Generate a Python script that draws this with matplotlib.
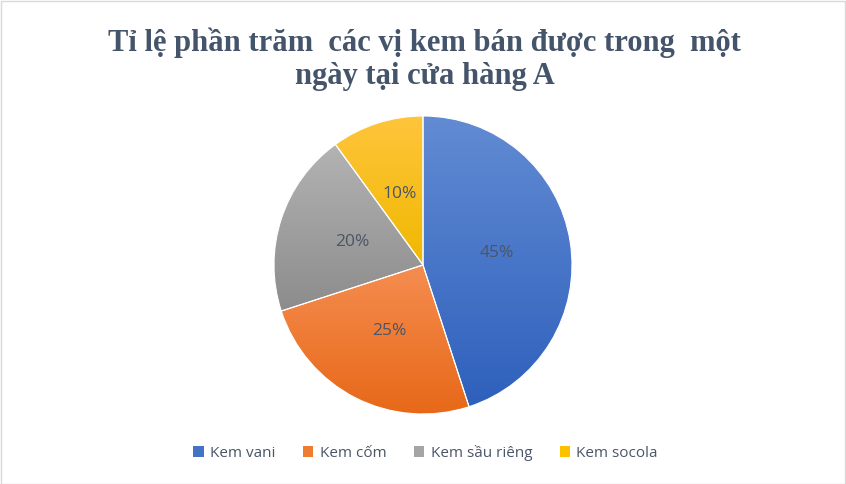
import numpy as np
import matplotlib.pyplot as plt
from matplotlib.colors import LinearSegmentedColormap
from matplotlib.patches import Rectangle

# dữ liệu
labels = ["Kem vani", "Kem cốm", "Kem sầu riêng", "Kem socola"]
values = [45, 25, 20, 10]
# màu gradient (trên, dưới) cho từng lát
top_colors = ["#628BD3", "#F58D50", "#B3B3B3", "#FFC53C"]
bottom_colors = ["#2E60BC", "#E76818", "#8C8C8C", "#F0B800"]
mid_colors = ["#4472C4", "#ED7D31", "#A5A5A5", "#FFC000"]

title = "Tỉ lệ phần trăm  các vị kem bán được trong  một\nngày tại cửa hàng A"
text_color = "#44546A"
label_color = "#4A5568"

fig = plt.figure(figsize=(8.46, 4.84), dpi=100)
fig.patch.set_facecolor("white")

# khung viền xám quanh hình
fig.patches.append(Rectangle((0.001, 0.001), 0.998, 0.997, transform=fig.transFigure,
                             fill=False, edgecolor="#D9D9D9", linewidth=1.0))

cx, cy = 423 / 846, 1 - 265 / 484
rx, ry = 149 / 846, 149 / 484
ax = fig.add_axes([cx - rx, cy - ry, 2 * rx, 2 * ry])

wedges, texts, autotexts = ax.pie(
    values, colors=mid_colors, startangle=90, counterclock=False,
    autopct="%1.0f%%", pctdistance=0.5,
    wedgeprops=dict(edgecolor="white", linewidth=0.8),
    textprops=dict(color=label_color, fontsize=12.5, family="Open Sans"))

# tô gradient dọc trong từng lát
for w, c1, c2 in zip(wedges, top_colors, bottom_colors):
    bb = w.get_path().get_extents(w.get_patch_transform())
    cmap = LinearSegmentedColormap.from_list("g", [c2, c1])
    grad = np.linspace(0, 1, 256).reshape(-1, 1)
    im = ax.imshow(grad, cmap=cmap, origin="lower", aspect="auto",
                   extent=[bb.x0, bb.x1, bb.y0, bb.y1], zorder=w.get_zorder() - 0.5)
    im.set_clip_path(w)
    w.set_facecolor("none")
ax.set_xlim(-1, 1)
ax.set_ylim(-1, 1)
for t in autotexts:
    t.set_zorder(5)

# tiêu đề
fig.text(0.502, 0.877, title, ha="center", va="center", fontsize=22,
         fontweight="bold", family="Liberation Serif", color=text_color,
         linespacing=1.2)

# chú giải
handles = [Rectangle((0, 0), 1, 1, facecolor=c) for c in mid_colors]
fig.legend(handles, labels, loc="center", bbox_to_anchor=(0.503, 0.064), ncol=4,
           frameon=False, handlelength=0.7, handleheight=0.7, handletextpad=0.4,
           columnspacing=1.8, prop=dict(family="Open Sans", size=11),
           labelcolor=label_color)

fig.savefig("out.png", dpi=100)
